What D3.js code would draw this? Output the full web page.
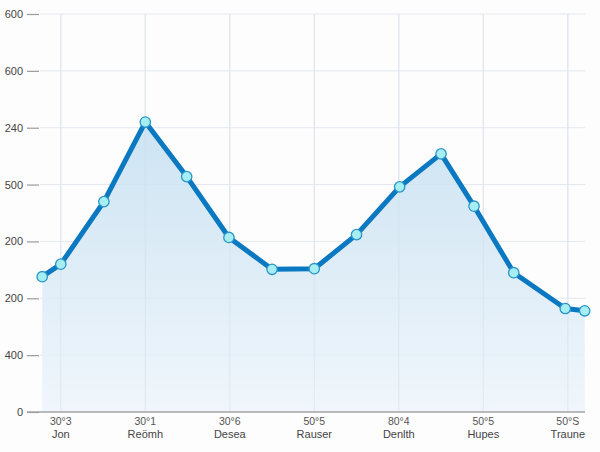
<!DOCTYPE html>
<html>
<head>
<meta charset="utf-8">
<script src="https://cdn.jsdelivr.net/npm/d3@7/dist/d3.min.js"></script>
<style>
  html, body { margin: 0; padding: 0; background: #fdfdfd; }
  svg { display: block; }
  text { font-family: "Liberation Sans", Arial, Helvetica, sans-serif; }
</style>
</head>
<body>
<svg id="chart" width="600" height="452"></svg>
<script>
// ---- data ----
const pointX = [-0.22, 0, 0.51, 1, 1.49, 1.99, 2.5, 3, 3.5, 4.01, 4.5, 4.89, 5.36, 5.97, 6.2];
const pointY = [238, 260, 370, 510, 414, 307, 251, 252, 312, 396, 454, 362, 245, 182, 178];
const categoryPos = [0, 1, 2, 3, 4, 5, 6];
const categoryTop = ["30°3", "30°1", "30°6", "50°5", "80°4", "50°5", "50°S"];
const categoryBottom = ["Jon", "Reömh", "Desea", "Rauser", "Denlth", "Hupes", "Traune"];
const yTickValues = [0, 100, 200, 300, 400, 500, 600, 700];
const yTickLabels = ["0", "400", "200", "200", "500", "240", "600", "600"];

const data = pointX.map((x, i) => ({ x, y: pointY[i] }));

const svg = d3.select("#chart");
const x = d3.scaleLinear().domain([0, 6]).range([60.8, 567.8]);
const y = d3.scaleLinear().domain([0, 700]).range([412, 14]);

// gradient
const defs = svg.append("defs");
const grad = defs.append("linearGradient").attr("id", "areaGrad")
  .attr("x1", 0).attr("y1", 0).attr("x2", 0).attr("y2", 1);
grad.append("stop").attr("offset", "0%").attr("stop-color", "#c4dff1").attr("stop-opacity", 1);
grad.append("stop").attr("offset", "100%").attr("stop-color", "#eef5fb").attr("stop-opacity", 1);

// horizontal grid
svg.append("g").selectAll("line").data(yTickValues.slice(1)).join("line")
  .attr("x1", 40).attr("x2", 585)
  .attr("y1", d => y(d)).attr("y2", d => y(d))
  .attr("stroke", "#e4e8ed").attr("stroke-width", 1);

// vertical grid
svg.append("g").selectAll("line").data(categoryPos).join("line")
  .attr("x1", d => x(d)).attr("x2", d => x(d))
  .attr("y1", y(700)).attr("y2", y(0))
  .attr("stroke", "#e2e7ee").attr("stroke-width", 1);

// area
const area = d3.area().x(d => x(d.x)).y0(y(0)).y1(d => y(d.y));
svg.append("path").datum(data).attr("d", area)
  .attr("fill", "url(#areaGrad)").attr("opacity", 0.85);

// re-draw vertical grid faintly over area
svg.append("g").selectAll("line").data(categoryPos).join("line")
  .attr("x1", d => x(d)).attr("x2", d => x(d))
  .attr("y1", y(700)).attr("y2", y(0))
  .attr("stroke", "#d6e2ec").attr("stroke-width", 1).attr("opacity", 0.5);

// y axis
const yAxis = d3.axisLeft(y).tickValues(yTickValues)
  .tickFormat((d, i) => yTickLabels[i]).tickSize(12).tickPadding(4);
const gy = svg.append("g").attr("transform", "translate(39,0)").call(yAxis);
gy.select(".domain").remove();
gy.selectAll(".tick line").attr("stroke", "#9a9a9a").attr("stroke-width", 1.2);
gy.selectAll(".tick text").attr("fill", "#444").attr("font-size", 11);

// baseline
svg.append("line").attr("x1", 27).attr("x2", 585)
  .attr("y1", y(0)).attr("y2", y(0))
  .attr("stroke", "#a5a5a5").attr("stroke-width", 1.5);

// x labels
const xl = svg.append("g").selectAll("g").data(categoryPos).join("g")
  .attr("transform", d => `translate(${x(d)},0)`);
xl.append("text").attr("y", 425).attr("text-anchor", "middle")
  .attr("font-size", 10.5).attr("fill", "#555").text((d, i) => categoryTop[i]);
xl.append("text").attr("y", 438).attr("text-anchor", "middle")
  .attr("font-size", 11).attr("fill", "#444").text((d, i) => categoryBottom[i]);

// line
const line = d3.line().x(d => x(d.x)).y(d => y(d.y));
svg.append("path").datum(data).attr("d", line)
  .attr("fill", "none").attr("stroke", "#0b78c2").attr("stroke-width", 5)
  .attr("stroke-linejoin", "round").attr("stroke-linecap", "round");

// markers
svg.append("g").selectAll("circle").data(data).join("circle")
  .attr("cx", d => x(d.x)).attr("cy", d => y(d.y)).attr("r", 5.2)
  .attr("fill", "#a6eef2").attr("stroke", "#2a95c9").attr("stroke-width", 1.3);
</script>
</body>
</html>
